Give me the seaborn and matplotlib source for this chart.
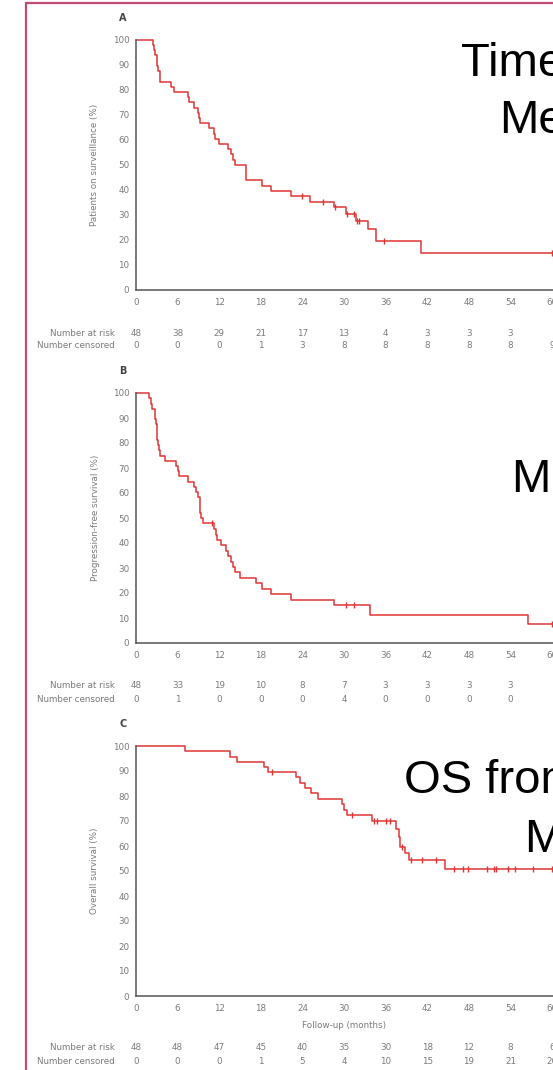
import numpy as np
import matplotlib
matplotlib.use("Agg")
import matplotlib.pyplot as plt
import seaborn as sns
from matplotlib.lines import Line2D

sns.set_style("white")
plt.rcParams["font.family"] = ["DejaVu Sans"]

# ---- Kaplan-Meier step estimates (months, %) ----
a_times = [0, 2.4, 2.6, 2.8, 3.0, 3.1, 3.2, 3.4, 3.5, 5.1, 5.5, 7.5, 7.6, 8.4, 9.0,
           9.1, 9.2, 10.6, 11.2, 11.4, 12.0, 13.2, 13.7, 14.0, 14.3, 15.8, 18.2,
           19.5, 22.3, 25.1, 28.6, 30.3, 31.7, 33.4, 34.6, 41.1, 60.0]
a_surv = [100, 97.9, 95.8, 93.8, 91.7, 89.6, 87.5, 85.4, 83.3, 81.3, 79.2, 77.1, 75.0,
          72.9, 70.8, 68.8, 66.7, 64.6, 62.5, 60.4, 58.3, 56.3, 54.2, 52.1, 50.0, 43.8,
          41.7, 39.6, 37.5, 35.3, 33.0, 30.4, 27.6, 24.3, 19.6, 14.7, 14.7]
a_cens = [24.0, 26.9, 28.7, 30.4, 31.4, 31.9, 32.2, 35.8, 60.0]

b_times = [0, 1.9, 2.1, 2.3, 2.7, 2.8, 2.9, 3.0, 3.05, 3.1, 3.15, 3.3, 3.5, 4.2, 5.8,
           6.0, 6.2, 7.5, 8.4, 8.7, 8.9, 9.2, 9.25, 9.3, 9.35, 9.6, 11.3, 11.5, 11.7,
           12.3, 13.0, 13.3, 13.7, 14.0, 14.3, 15.0, 17.3, 18.2, 19.5, 22.3, 28.6,
           33.7, 56.5, 60.0]
b_surv = [100, 97.9, 95.8, 93.8, 91.7, 89.6, 87.5, 85.4, 83.3, 81.3, 79.2, 77.1, 75.0,
          72.9, 70.8, 68.8, 66.7, 64.6, 62.5, 60.4, 58.3, 56.3, 54.2, 52.1, 50.0, 47.9,
          45.6, 43.4, 41.3, 39.1, 37.0, 34.8, 32.6, 30.4, 28.3, 26.1, 23.9, 21.7, 19.6,
          17.4, 15.2, 11.4, 7.6, 7.6]
b_cens = [11.0, 30.3, 31.5, 60.0]

c_times = [0, 7.0, 13.6, 14.6, 18.5, 19.0, 23.1, 23.7, 24.4, 25.3, 26.3, 29.7, 30.0,
           30.4, 34.0, 37.5, 37.9, 38.1, 38.8, 39.4, 44.6, 60.0]
c_surv = [100, 97.9, 95.8, 93.8, 91.7, 89.6, 87.5, 85.4, 83.3, 81.3, 79.0, 76.8, 74.5,
          72.3, 70.0, 67.0, 63.7, 59.8, 57.1, 54.4, 51.0, 51.0]
c_cens = [19.6, 31.2, 34.3, 34.8, 36.1, 36.6, 38.4, 39.7, 41.3, 43.2, 45.9, 47.1,
          47.9, 50.6, 51.7, 51.9, 53.6, 54.7, 57.2, 60.0]

# ---- number at risk / censored tables (at 0, 6, ..., 60 months) ----
risk_times = [0, 6, 12, 18, 24, 30, 36, 42, 48, 54, 60]
a_risk = [48, 38, 29, 21, 17, 13, 4, 3, 3, 3, None]
a_censored = [0, 0, 0, 1, 3, 8, 8, 8, 8, 8, 9]
b_risk = [48, 33, 19, 10, 8, 7, 3, 3, 3, 3, None]
b_censored = [0, 1, 0, 0, 0, 4, 0, 0, 0, 0, None]
c_risk = [48, 48, 47, 45, 40, 35, 30, 18, 12, 8, 6]
c_censored = [0, 0, 0, 1, 5, 4, 10, 15, 19, 21, 26]

y_ticks = list(range(0, 101, 10))

W, H = 553, 1070
fig = plt.figure(figsize=(W / 100, H / 100), dpi=100)
fig.patch.set_facecolor("white")

X0 = 136.0
PX_PER_MONTH = (552.0 - 136.0) / 60.0
XMAX = 63.0

RED = "#e03535"
GRAY_TXT = "#7a7a7a"
SPINE = "#555555"
FS = 6.3


def fy(py):
    return 1 - py / H


def surv_at(times, surv, t):
    idx = np.searchsorted(np.asarray(times), t, side="right") - 1
    return surv[idx]


panels = [
    dict(letter="A", top=40, bottom=290, times=a_times, surv=a_surv, cens=a_cens,
         ylabel="Patients on surveillance (%)", risk=a_risk, censored=a_censored,
         xlabel=None, rows=(43, 56)),
    dict(letter="B", top=393, bottom=643, times=b_times, surv=b_surv, cens=b_cens,
         ylabel="Progression-free survival (%)", risk=b_risk, censored=b_censored,
         xlabel=None, rows=(43, 57)),
    dict(letter="C", top=746, bottom=996, times=c_times, surv=c_surv, cens=c_cens,
         ylabel="Overall survival (%)", risk=c_risk, censored=c_censored,
         xlabel="Follow-up (months)", rows=(52, 66)),
]

for p in panels:
    right_px = X0 + XMAX * PX_PER_MONTH
    ax = fig.add_axes([X0 / W, fy(p["bottom"]), (right_px - X0) / W,
                       (p["bottom"] - p["top"]) / H])
    ax.set_facecolor("none")

    sns.lineplot(x=p["times"], y=p["surv"], ax=ax, color=RED, linewidth=1.1,
                 drawstyle="steps-post", estimator=None, sort=False, errorbar=None)
    for ln in ax.lines:
        ln.set_clip_on(False)
    cy = [surv_at(p["times"], p["surv"], t) for t in p["cens"]]
    sns.scatterplot(x=p["cens"], y=cy, ax=ax, marker="|", s=22, linewidth=1.0,
                    color=RED, clip_on=False, zorder=3)

    ax.set_xlim(0, XMAX)
    ax.set_ylim(0, 100)
    ax.set_xticks(risk_times)
    ax.set_yticks(y_ticks)
    for s in ("top", "right"):
        ax.spines[s].set_visible(False)
    for s in ("left", "bottom"):
        ax.spines[s].set_color(SPINE)
        ax.spines[s].set_linewidth(1.1)
    ax.tick_params(axis="both", direction="inout", length=4.5, width=1.0,
                   color=SPINE, labelsize=FS, labelcolor=GRAY_TXT, pad=2.5)
    ax.tick_params(axis="x", pad=3.5)
    ax.grid(False)

    ax.set_ylabel(p["ylabel"], fontsize=FS, color=GRAY_TXT)
    ax.yaxis.label.set_va("center")
    ax.yaxis.set_label_coords((95 - X0) / (right_px - X0), 0.5)

    if p["xlabel"]:
        ax.set_xlabel(p["xlabel"], fontsize=FS, color=GRAY_TXT)
        ax.xaxis.label.set_va("center")
        ax.xaxis.set_label_coords(30 / XMAX, -(1025 - p["bottom"]) / (p["bottom"] - p["top"]))
    else:
        ax.set_xlabel("")

    fig.text(123 / W, fy(p["top"] - 22), p["letter"], fontsize=7, fontweight="bold",
             color="#454545", ha="center", va="center")

    r_off, c_off = p["rows"]
    fig.text(115 / W, fy(p["bottom"] + r_off), "Number at risk", fontsize=FS,
             color=GRAY_TXT, ha="right", va="center")
    fig.text(115 / W, fy(p["bottom"] + c_off), "Number censored", fontsize=FS,
             color=GRAY_TXT, ha="right", va="center")
    for t, r, c in zip(risk_times, p["risk"], p["censored"]):
        xp = (X0 + t * PX_PER_MONTH) / W
        if r is not None:
            fig.text(xp, fy(p["bottom"] + r_off), str(r), fontsize=FS,
                     color=GRAY_TXT, ha="center", va="center")
        if c is not None:
            fig.text(xp, fy(p["bottom"] + c_off), str(c), fontsize=FS,
                     color=GRAY_TXT, ha="center", va="center")

# Large slide captions
captions = [
    ("Time on surveillance", 461, 76),
    ("Median", 499.5, 133),
    ("Median PFS", 511.5, 491.5),
    ("OS from diagnosis", 404.5, 793),
    ("Median", 524.5, 851.5),
]
for txt, xp, yp in captions:
    fig.text(xp / W, fy(yp), txt, fontsize=34, family="Liberation Sans",
             color="black", ha="left", va="baseline")

# Slide frame
fig.add_artist(Line2D([26 / W, 26 / W], [fy(3), 0], color="#c24a76", linewidth=1.6))
fig.add_artist(Line2D([26 / W, 1.01], [fy(3), fy(3)], color="#c24a76", linewidth=1.6))

fig.savefig("out.png", dpi=100)
